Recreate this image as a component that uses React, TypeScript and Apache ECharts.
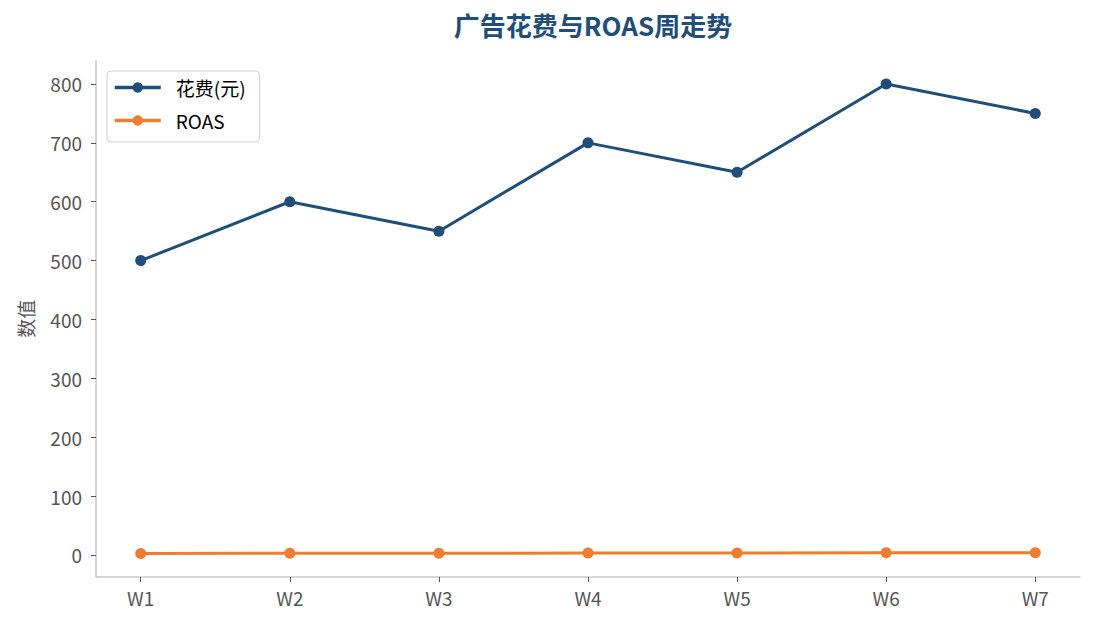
import React, { useEffect, useRef } from "react";
import * as echarts from "echarts";

const weeks = ["W1", "W2", "W3", "W4", "W5", "W6", "W7"];
const spend = [500, 600, 550, 700, 650, 800, 750];
const roas = [2.5, 3.0, 2.8, 3.5, 3.2, 4.0, 3.8];
const yTicks = [0, 100, 200, 300, 400, 500, 600, 700, 800];

const FONT = "'Noto Sans CJK SC', 'Noto Sans', sans-serif";

export default function App() {
  const ref = useRef<HTMLDivElement>(null);
  useEffect(() => {
    if (!ref.current) return;
    const chart = echarts.init(ref.current, undefined, { renderer: "svg" });
    const xIdx = weeks.map((_, i) => i);
    chart.setOption({
      animation: false,
      backgroundColor: "#ffffff",
      textStyle: { fontFamily: FONT },
      title: {
        text: "广告花费与ROAS周走势",
        left: 588,
        textAlign: "center",
        top: 6,
        textStyle: { fontFamily: FONT, fontSize: 26, fontWeight: "bold", color: "#1f4e79" },
      },
      legend: {
        orient: "vertical",
        left: 107,
        top: 71,
        padding: [7, 14, 12, 6],
        itemWidth: 46,
        itemHeight: 13,
        itemGap: 14,
        backgroundColor: "#ffffff",
        borderColor: "#d0d0d0",
        borderWidth: 1,
        borderRadius: 4,
        lineStyle: { width: 3.5 },
        textStyle: { fontFamily: FONT, fontSize: 19, color: "#000000", padding: [0, 0, 0, 10] },
        data: ["花费(元)", "ROAS"],
      },
      grid: { left: 96, right: 15, top: 60.5, bottom: 52, containLabel: false },
      xAxis: {
        type: "value",
        min: -0.3,
        max: 6.3,
        axisLine: { show: true, onZero: false, lineStyle: { color: "#c8c8c8", width: 1.5 } },
        axisTick: { show: true, length: 5, lineStyle: { color: "#555555" }, customValues: xIdx },
        axisLabel: {
          customValues: xIdx,
          formatter: (v: number) => weeks[Math.round(v)] ?? "",
          fontFamily: FONT,
          fontSize: 19,
          color: "#555555",
          margin: 11,
        },
        splitLine: { show: false },
      },
      yAxis: {
        type: "value",
        min: -37.4,
        max: 839.9,
        name: "数值",
        nameLocation: "middle",
        nameGap: 61,
        nameTextStyle: { fontFamily: FONT, fontSize: 19, color: "#555555" },
        axisLine: { show: true, onZero: false, lineStyle: { color: "#c8c8c8", width: 1.5 } },
        axisTick: { show: true, length: 5, lineStyle: { color: "#555555" }, customValues: yTicks },
        axisLabel: {
          customValues: yTicks,
          fontFamily: FONT,
          fontSize: 19,
          color: "#555555",
          margin: 14,
        },
        splitLine: { show: false },
      },
      series: [
        {
          name: "花费(元)",
          type: "line",
          data: spend.map((v, i) => [i, v]),
          symbol: "circle",
          symbolSize: 11,
          lineStyle: { width: 3, color: "#1f4e79" },
          itemStyle: { color: "#1f4e79" },
        },
        {
          name: "ROAS",
          type: "line",
          data: roas.map((v, i) => [i, v]),
          symbol: "circle",
          symbolSize: 11,
          lineStyle: { width: 3, color: "#ed7d31" },
          itemStyle: { color: "#ed7d31" },
        },
      ],
    });
    return () => chart.dispose();
  }, []);
  return (
    <div
      ref={ref}
      style={{ position: "fixed", left: 0, top: 0, width: 1095, height: 629, background: "#fff" }}
    />
  );
}
